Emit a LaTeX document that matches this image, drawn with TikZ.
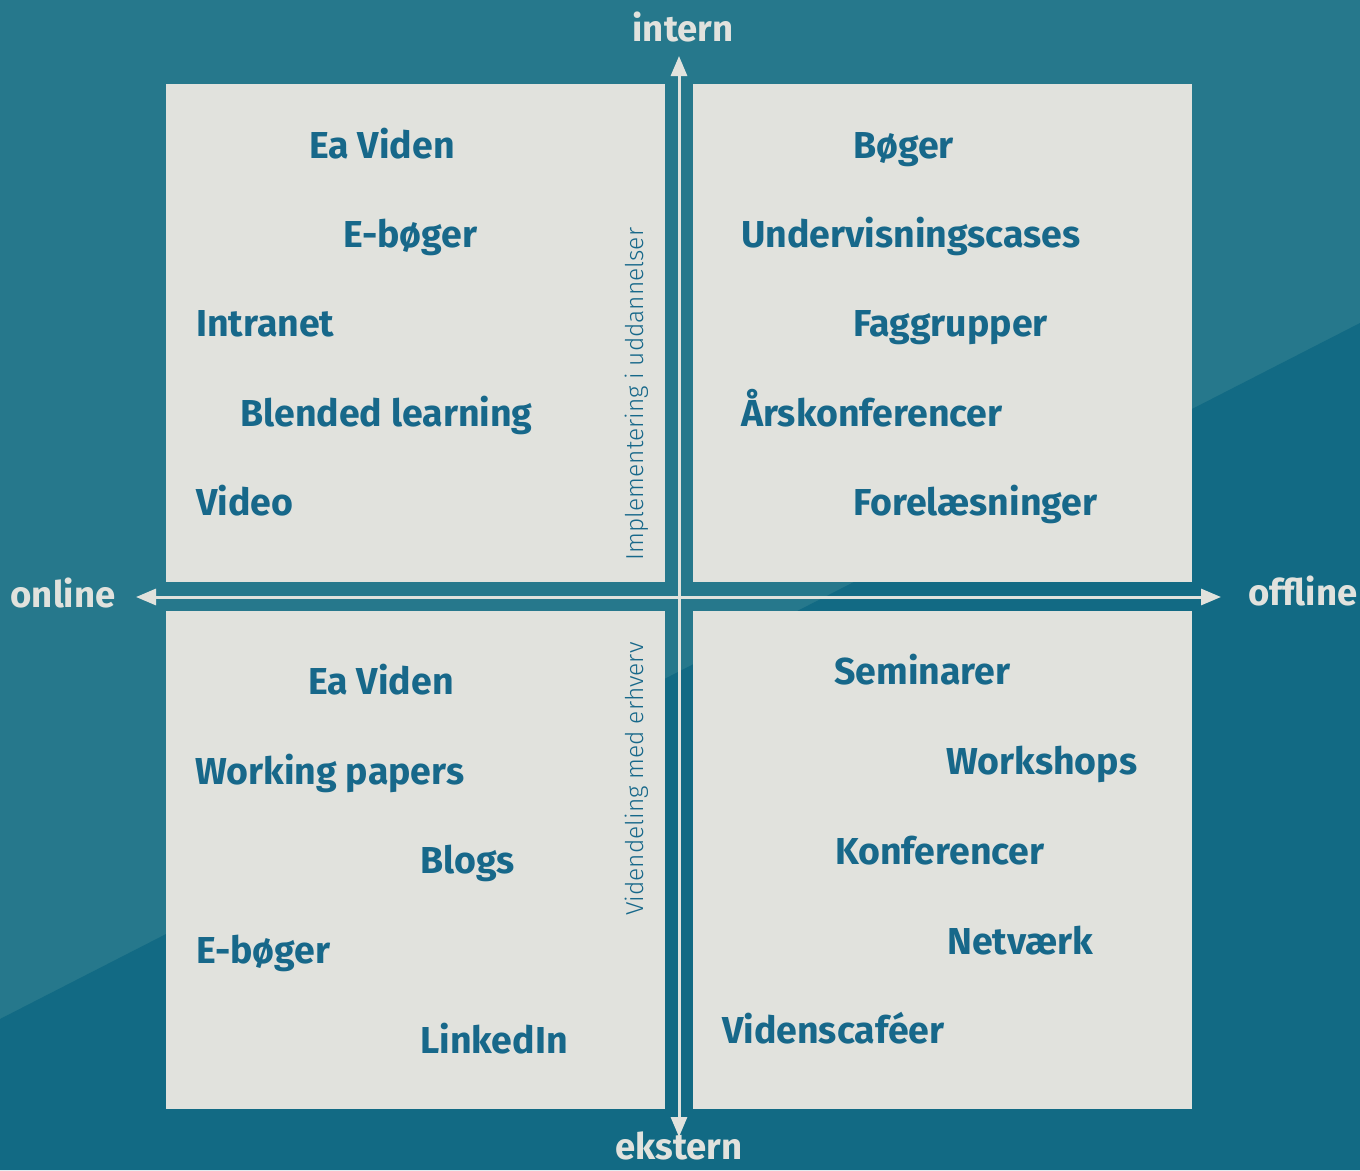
\documentclass[tikz,border=0pt]{standalone}
\usepackage{fontspec}
\setmainfont{Fira Sans}
\newfontfamily\thinfont{Fira Sans Light}
\definecolor{eaBgLight}{HTML}{26788C}
\definecolor{eaBgDark}{HTML}{126A84}
\definecolor{eaCard}{HTML}{E1E2DD}
\definecolor{eaText}{HTML}{17688A}
\usetikzlibrary{arrows.meta}

\begin{document}
\begin{tikzpicture}[x=1pt,y=-1pt,
  card/.style={fill=eaCard, draw=none},
  item/.style={anchor=base west, inner sep=0pt, text=eaText, font=\fontsize{37.5}{37.5}\selectfont\bfseries},
  axis/.style={font=\fontsize{36.5}{36.5}\selectfont\bfseries, text=eaCard, inner sep=0pt},
  side/.style={font=\fontsize{24.5}{24.5}\selectfont\thinfont, text=eaText, rotate=90, inner sep=0pt},
  arr/.style={-{Triangle[length=20pt,width=16pt]}, line width=3pt, color=eaCard}
]
  % Background
  \fill[eaBgLight] (0,0) rectangle (1360,1170);
  \fill[eaBgDark] (0,1019) -- (1360,323) -- (1360,1170) -- (0,1170) -- cycle;
  \useasboundingbox (0,0) rectangle (1360,1170);
  % Quadrants
  \fill[card] (166,84) rectangle (665,582);
  \fill[card] (693,84) rectangle (1192,582);
  \fill[card] (166,611) rectangle (665,1109);
  \fill[card] (693,611) rectangle (1192,1109);
  % Axes
  \coordinate (top) at (679,56);
  \coordinate (bottom) at (679,1137);
  \coordinate (left) at (136,597);
  \coordinate (right) at (1221,597);
  \draw[arr] (679,597) -- (top);
  \draw[arr] (679,597) -- (bottom);
  \draw[arr] (679,597) -- (left);
  \draw[arr] (679,597) -- (right);
  % Axis labels
  \node[axis] (intern) at (683,27) {intern};
  \node[axis] (ekstern) at (679,1146) {ekstern};
  \node[axis] (online) at (63,593) {online};
  \node[axis] (offline) at (1303,591) {offline};
  % Side labels
  \node[side] (impl) at (637,394) {Implementering i uddannelser};
  \node[side] (vid) at (637,779) {Videndeling med erhverv};
  % Online / intern
  \node[item] (eaviden1) at (309,158) {Ea Viden};
  \node[item] (eboger1) at (343,247) {E-bøger};
  \node[item] (intranet) at (196,336) {Intranet};
  \node[item] (blended) at (240,426) {Blended learning};
  \node[item] (video) at (196,515) {Video};
  % Offline / intern
  \node[item] (boger) at (853,158) {Bøger};
  \node[item] (cases) at (741,247) {Undervisningscases};
  \node[item] (fag) at (853,336) {Faggrupper};
  \node[item] (aars) at (741,426) {Årskonferencer};
  \node[item] (forel) at (853,515) {Forelæsninger};
  % Online / ekstern
  \node[item] (eaviden2) at (308,694) {Ea Viden};
  \node[item] (working) at (195,784) {Working papers};
  \node[item] (blogs) at (420,873) {Blogs};
  \node[item] (eboger2) at (196,963) {E-bøger};
  \node[item] (linkedin) at (420,1053) {LinkedIn};
  % Offline / ekstern
  \node[item] (seminar) at (834,684) {Seminarer};
  \node[item] (workshop) at (946,774) {Workshops};
  \node[item] (konf) at (835,864) {Konferencer};
  \node[item] (netvaerk) at (947,954) {Netværk};
  \node[item] (cafe) at (722,1043) {Videnscaféer};
\end{tikzpicture}
\end{document}
